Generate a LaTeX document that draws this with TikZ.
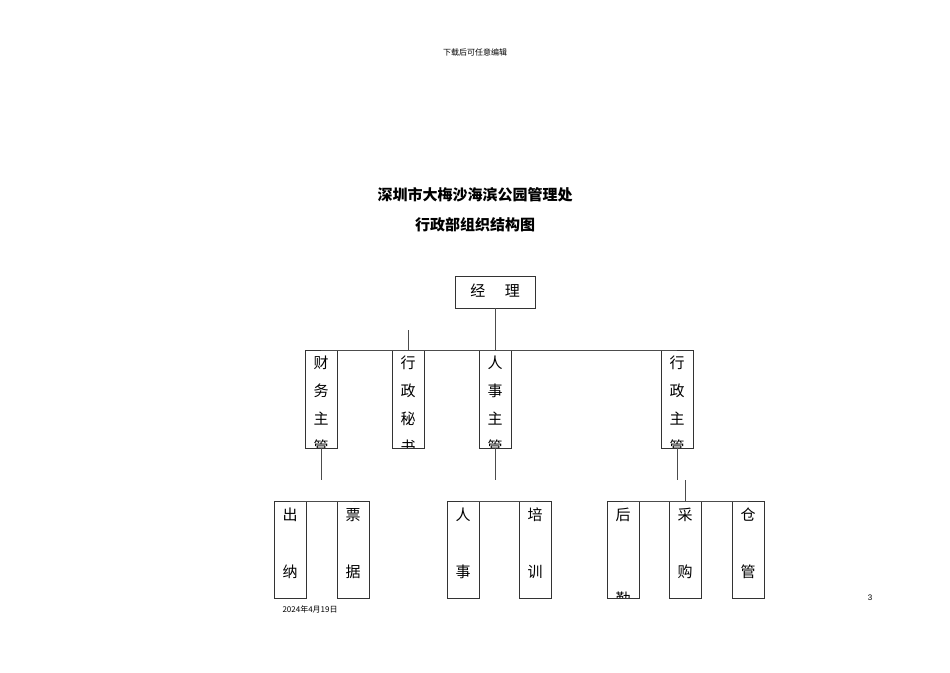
\documentclass[tikz,border=0pt]{standalone}
\usepackage{fontspec}
\newfontfamily\cjk{Noto Sans CJK SC}
\setmainfont{Liberation Sans}
\tikzset{bx/.style={draw=black!80,line width=0.9pt},ln/.style={draw=black!70,line width=0.8pt},
ch/.style={font=\cjk\fontsize{15}{15}\selectfont,inner sep=0pt}}
\newcommand{\orgbox}[6]{% name x1 x2 y1 y2 chars-list
\begin{scope}\clip (#2,#4) rectangle (#3,#5);
\foreach \c/\yy in {#6}{\node[ch] at ({(#2+#3)/2},\yy) {\c};}
\end{scope}
\draw[bx] (#2,#4) rectangle (#3,#5);
\coordinate (#1t) at ({(#2+#3)/2},#4); \coordinate (#1b) at ({(#2+#3)/2},#5);}
\begin{document}
\begin{tikzpicture}[x=1pt,y=-1pt]
\useasboundingbox (0,0) rectangle (950,672);
\node[font=\cjk\fontsize{8}{8}\selectfont] (hd) at (475,52) {下载后可任意编辑};
\node[font=\cjk\bfseries\fontsize{15}{15}\selectfont] (t1) at (475,195) {深圳市大梅沙海滨公园管理处};
\node[font=\cjk\bfseries\fontsize{15}{15}\selectfont] (t2) at (475,225) {行政部组织结构图};
\draw[bx] (455,276) rectangle (535,308);
\node[ch] (jl) at (495,291) {经\hspace{1.3em}理};
\coordinate (jlb) at (495,308);
\orgbox{a}{305}{337}{350}{448}{财/363,务/391,主/419,管/447}
\orgbox{b}{392}{424}{350}{448}{行/363,政/391,秘/419,书/447}
\orgbox{c}{479}{511}{350}{448}{人/363,事/391,主/419,管/447}
\orgbox{d}{661}{693}{350}{448}{行/363,政/391,主/419,管/447}
\draw[ln] (jlb)--(495,330);
\draw[ln] (at) |- (dt); \draw[ln] (bt)--(408,330); \draw[ln] (ct)--(495,330);
\orgbox{e}{274}{306}{501}{598}{出/515,纳/572}
\orgbox{f}{337}{369}{501}{598}{票/515,据/572}
\orgbox{g}{447}{479}{501}{598}{人/515,事/572}
\orgbox{h}{519}{551}{501}{598}{培/515,训/572}
\orgbox{i}{607}{639}{501}{598}{后/515,勤/599}
\orgbox{j}{669}{701}{501}{598}{采/515,购/572}
\orgbox{k}{732}{764}{501}{598}{仓/515,管/572}
\draw[ln] (ab)--(321,480); \draw[ln] (et)|-(ft);
\draw[ln] (cb)--(495,480); \draw[ln] (gt)|-(ht);
\draw[ln] (db)--(677,480); \draw[ln] (it)|-(kt); \draw[ln] (jt)--(685,480);
\node[font=\cjk\fontsize{8}{8}\selectfont,anchor=west] (dt8) at (279,609) {2024年4月19日};
\node[font=\fontsize{8}{8}\selectfont] (pg) at (870,598) {3};
\end{tikzpicture}
\end{document}
